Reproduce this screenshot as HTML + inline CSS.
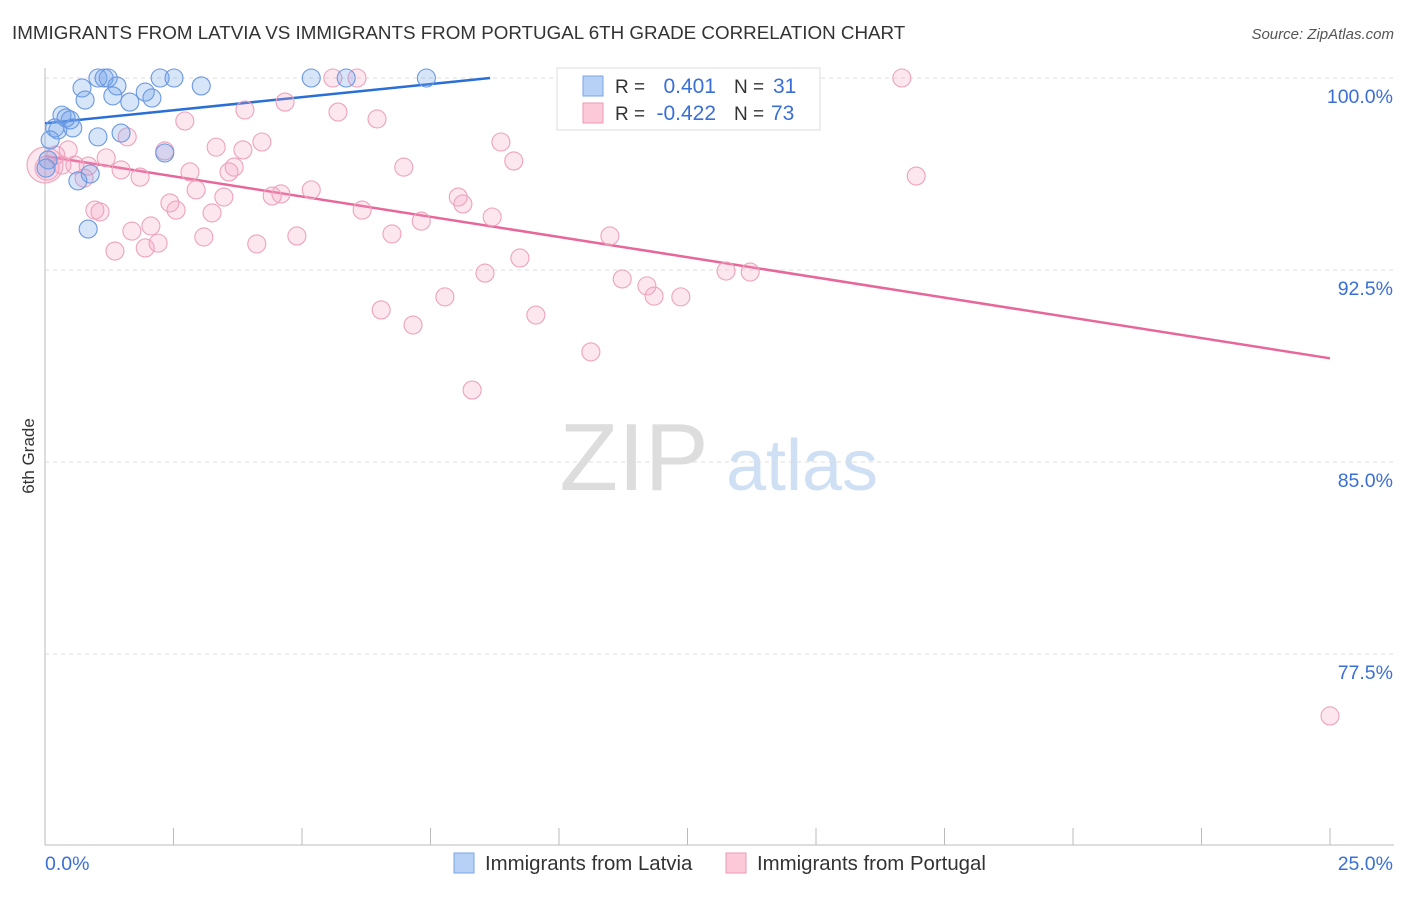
<!DOCTYPE html>
<html><head><meta charset="utf-8"><style>
body{margin:0;background:#fff;font-family:"Liberation Sans",sans-serif;}
svg text{font-family:"Liberation Sans",sans-serif;}
</style></head><body>
<svg id="chart" width="1406" height="892" viewBox="0 0 1406 892">
<text x="12" y="39" font-size="18.8" fill="#333">IMMIGRANTS FROM LATVIA VS IMMIGRANTS FROM PORTUGAL 6TH GRADE CORRELATION CHART</text>
<text x="1394" y="39" font-size="15" fill="#555" font-style="italic" text-anchor="end">Source: ZipAtlas.com</text>
<text x="34" y="456" font-size="17" fill="#333" text-anchor="middle" transform="rotate(-90 34 456)">6th Grade</text>
<g><text x="634" y="490" font-size="96" fill="#ddd" font-family="Liberation Serif" text-anchor="middle">ZIP</text><text x="802" y="490" font-size="72" fill="#cfe0f5" text-anchor="middle">atlas</text></g>
<g id="grid"></g><g id="axes"></g><g id="trends"></g><g id="points"></g>
<g>
<rect x="557" y="68" width="263" height="62" fill="#fff" stroke="#ddd"/>
<rect x="583" y="76" width="20" height="20" fill="#b7d0f5" stroke="#7aa6e8"/>
<rect x="583" y="103" width="20" height="20" fill="#fbc9d8" stroke="#ee9ab5"/>
<text x="615" y="93" font-size="19" fill="#333">R =</text><text x="716" y="93" font-size="21" fill="#3a6fd8" text-anchor="end">0.401</text>
<text x="734" y="93" font-size="19" fill="#333">N =</text><text x="773" y="93" font-size="21" fill="#3a6fd8">31</text>
<text x="615" y="120" font-size="19" fill="#333">R =</text><text x="716" y="120" font-size="21" fill="#3a6fd8" text-anchor="end">-0.422</text>
<text x="734" y="120" font-size="19" fill="#333">N =</text><text x="771" y="120" font-size="21" fill="#3a6fd8">73</text>
</g>
<g>
<rect x="454" y="853" width="20" height="20" fill="#b7d0f5" stroke="#7aa6e8"/>
<text x="485" y="870" font-size="20.4" fill="#333">Immigrants from Latvia</text>
<rect x="726" y="853" width="20" height="20" fill="#fbc9d8" stroke="#ee9ab5"/>
<text x="757" y="870" font-size="20.4" fill="#333">Immigrants from Portugal</text>
</g>
</svg>
<script>
const yTicks=[100,92.5,85,77.5];
const yTickLabels=["100.0%","92.5%","85.0%","77.5%"];
const xTickLabels=["0.0%","25.0%"];
const latviaX=[1.03,1.15,1.23,2.24,2.51,5.18,5.86,7.42,0.72,3.04,1.40,1.95,0.78,1.32,1.65,2.08,0.33,0.41,0.49,0.19,0.25,0.54,1.03,1.48,2.33,0.88,0.64,0.84,0.10,0.06,0.02];
const latviaY=[100,100,100,100,100,100,100,100,99.61,99.69,99.69,99.45,99.14,99.30,99.06,99.22,98.55,98.44,98.36,98.05,97.97,98.05,97.70,97.85,97.07,96.25,95.98,94.10,97.58,96.80,96.48];
const portugalX=[0.21,0.33,0.45,0.58,0.76,0.84,0.97,1.07,1.19,1.36,1.48,1.60,1.69,1.85,1.95,2.06,2.20,2.33,2.43,2.55,2.72,2.82,2.94,3.09,3.25,3.33,3.48,3.58,3.68,3.85,3.89,4.12,4.22,4.42,4.59,4.67,4.90,5.18,5.60,5.70,6.07,6.17,6.46,6.54,6.75,6.98,7.16,7.32,7.78,8.04,8.13,8.31,8.56,8.70,8.87,9.12,9.24,9.55,10.62,10.99,11.23,11.71,11.85,12.37,13.25,13.72,14.11,14.40,16.67,16.95,25.0,0.04,0.0];
const portugalY=[96.99,96.60,97.19,96.60,96.09,96.56,94.84,94.77,96.88,93.24,96.41,97.70,94.02,96.13,93.36,94.22,93.55,97.15,95.12,94.84,98.32,96.33,95.63,93.79,94.73,97.30,95.35,96.33,96.52,97.19,98.75,93.52,97.50,95.39,95.47,99.06,93.83,95.63,100,98.67,100,94.84,98.40,90.94,93.91,96.52,90.35,94.41,91.45,95.35,95.08,87.81,92.38,94.57,97.50,96.76,92.97,90.74,89.30,93.83,92.15,91.88,91.48,91.45,92.46,92.42,100,100,100,96.17,75.08,96.48,96.6];
const latviaTrend=[98.23,100];
const latviaTrendEndX=[0,8.66];
const portugalTrend=[96.95,89.05];
const portugalTrendEndX=[0,25];
const NS="http://www.w3.org/2000/svg";
const xs=v=>45+v*(1285/25);
const ys=v=>78+(100-v)*(192/7.5);
function mk(tag,attrs,parent){const e=document.createElementNS(NS,tag);for(const k in attrs)e.setAttribute(k,attrs[k]);parent.appendChild(e);return e;}
const grid=document.getElementById('grid'),axes=document.getElementById('axes'),tr=document.getElementById('trends'),pts=document.getElementById('points');
yTicks.forEach((t,i)=>{
 const l=mk('line',{x1:45,x2:1394,y1:ys(t),y2:ys(t),stroke:'#ddd','stroke-dasharray':'4,4'},grid);
 
 
 const tx=mk('text',{x:1393,y:ys(t)+25,'font-size':19.5,fill:'#3a6fd8','text-anchor':'end'},grid);
 tx.textContent=yTickLabels[i];
 
 
});
const ya=mk('line',{x1:45,x2:45,y1:68,y2:845,stroke:'#bbb'},axes);


const xa=mk('line',{x1:45,x2:1394,y1:845,y2:845,stroke:'#bbb'},axes);


for(let k=1;k<=10;k++){const t=mk('line',{x1:xs(k*2.5),x2:xs(k*2.5),y1:828,y2:845,stroke:'#bbb'},axes);
 
 }
const xl0=mk('text',{x:45,y:870,'font-size':19.5,fill:'#3a6fd8'},axes);xl0.textContent=xTickLabels[0];


const xl1=mk('text',{x:1393,y:870,'font-size':19.5,fill:'#3a6fd8','text-anchor':'end'},axes);xl1.textContent=xTickLabels[1];


portugalX.forEach((x,i)=>{const r=(i>=portugalX.length-2)?(i==portugalX.length-1?18:12):9;
 const c=mk('circle',{cx:xs(x),cy:ys(portugalY[i]),r:r,fill:'rgba(244,160,190,0.25)',stroke:'#eea2bc','stroke-width':1.1},pts);
 
 });
latviaX.forEach((x,i)=>{const c=mk('circle',{cx:xs(x),cy:ys(latviaY[i]),r:9,fill:'rgba(110,160,235,0.28)',stroke:'#6a98e2','stroke-width':1.1},pts);
 
 });
const lt=mk('line',{x1:xs(latviaTrendEndX[0]),y1:ys(latviaTrend[0]),x2:xs(latviaTrendEndX[1]),y2:ys(latviaTrend[1]),stroke:'#2a6fd6','stroke-width':2.5},tr);


const pt=mk('line',{x1:xs(portugalTrendEndX[0]),y1:ys(portugalTrend[0]),x2:xs(portugalTrendEndX[1]),y2:ys(portugalTrend[1]),stroke:'#e8679a','stroke-width':2.5},tr);


</script>
</body></html>
